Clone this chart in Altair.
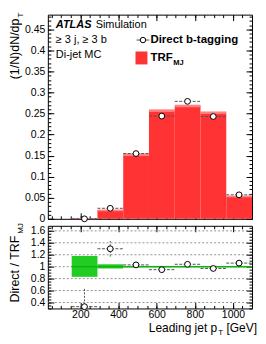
import altair as alt
import pandas as pd

# ---------------- data ----------------
bin_lo = [155, 290, 425, 560, 695, 830, 965]
bin_hi = [290, 425, 560, 695, 830, 965, 1100]
bin_mid = [222, 357, 492, 627, 762, 897, 1032]

trf = [0.001, 0.020, 0.152, 0.257, 0.268, 0.252, 0.053]
trf_err = [0.001, 0.002, 0.003, 0.003, 0.003, 0.003, 0.002]

direct = [0.0, 0.025, 0.155, 0.244, 0.279, 0.243, 0.057]
direct_err = [0.001, 0.003, 0.003, 0.006, 0.006, 0.006, 0.003]

ratio = [0.33, 1.30, 1.03, 0.95, 1.04, 0.97, 1.06]
ratio_err = [0.32, 0.13, 0.02, 0.02, 0.02, 0.02, 0.03]

band_lo = [0.83, 0.97, 0.99, 0.99, 0.99, 0.99, 0.99]
band_hi = [1.18, 1.04, 1.01, 1.01, 1.01, 1.01, 1.01]

x_major = [200, 400, 600, 800, 1000]
x_minor = [50 * i for i in range(1, 22)]
y_top_major = [0, 0.05, 0.1, 0.15, 0.2, 0.25, 0.3, 0.35, 0.4, 0.45]
y_top_minor = [i / 100 for i in range(0, 49)]
y_bot_major = [0.4, 0.6, 0.8, 1, 1.2, 1.4, 1.6]
y_bot_minor = [0.3 + 0.05 * i for i in range(0, 28)]

# ---------------- styling ----------------
FONT = "Liberation Sans"
W, HT, HB = 205, 205, 83
RED = "#ff3333"
LRED = "#ff8080"
GREEN = "#22cc22"
DGREEN = "#12b012"
ERR = "#555555"

df = pd.DataFrame(dict(lo=bin_lo, hi=bin_hi, mid=bin_mid, trf=trf, trf_err=trf_err,
                       direct=direct, direct_err=direct_err, ratio=ratio,
                       ratio_err=ratio_err, blo=band_lo, bhi=band_hi))
df["zero"] = 0.0
df["one"] = 1.0
df["trf_lo"] = df.trf - df.trf_err
df["trf_hi"] = df.trf + df.trf_err
df["d_lo"] = df.direct - df.direct_err
df["d_hi"] = df.direct + df.direct_err
df["r_lo"] = df.ratio - df.ratio_err
df["r_hi"] = df.ratio + df.ratio_err


def ax(orient, values, size, labels=False, pad=3):
    kw = dict(orient=orient, values=values, tickSize=size, offset=-size, domain=False,
              grid=False, ticks=True, tickColor="black", tickWidth=1, labels=labels,
              title=None)
    if labels:
        kw.update(labelFont=FONT, labelFontSize=10.5, labelColor="black", labelPadding=pad,
                  labelOverlap=False, labelFlush=False,
                  labelExpr="format(datum.value, '~g')")
    return alt.Axis(**kw)


def txt(s, x, y, size=11, weight="normal", style="normal", align="left", angle=0,
        baseline="middle"):
    return alt.Chart(alt.Data(values=[{}])).mark_text(
        text=s, font=FONT, fontSize=size, fontWeight=weight, fontStyle=style,
        align=align, baseline=baseline, angle=angle, color="black"
    ).encode(x=alt.value(x), y=alt.value(y))


one = alt.Data(values=[{}])

# ---------------- top panel ----------------
xs_t = alt.Scale(domain=[30, 1100], nice=False, zero=False)
ys_t = alt.Scale(domain=[0, 0.485], nice=False, zero=False)
bt = alt.Chart(df)

bars = bt.mark_rect(color=RED).encode(
    x=alt.X("lo:Q", scale=xs_t, axis=ax("bottom", x_major, 6)), x2="hi",
    y=alt.Y("trf:Q", scale=ys_t, axis=ax("left", y_top_major, 6, labels=True)), y2="zero")
bars_err = bt.mark_rect(color=LRED).encode(
    x=alt.X("lo:Q", scale=xs_t, axis=ax("bottom", x_minor, 3)), x2="hi",
    y=alt.Y("trf_lo:Q", scale=ys_t, axis=ax("left", y_top_minor, 3)), y2="trf_hi")
d_h = bt.mark_rule(color=ERR, strokeDash=[3, 1.5], strokeWidth=1).encode(
    x=alt.X("lo:Q", scale=xs_t, axis=ax("top", x_major, 6)), x2="hi",
    y=alt.Y("direct:Q", scale=ys_t, axis=ax("right", y_top_major, 6)))
d_v = bt.mark_rule(color=ERR, strokeWidth=1).encode(
    x=alt.X("mid:Q", scale=xs_t, axis=ax("top", x_minor, 3)),
    y=alt.Y("d_lo:Q", scale=ys_t, axis=ax("right", y_top_minor, 3)), y2="d_hi")
d_pt = bt.mark_point(shape="circle", filled=True, fill="white", stroke="black",
                     strokeWidth=1, size=34, opacity=1).encode(
    x=alt.X("mid:Q", scale=xs_t, axis=None),
    y=alt.Y("direct:Q", scale=ys_t, axis=None))

leg_line = alt.Chart(one).mark_rule(color=ERR, strokeWidth=1).encode(
    x=alt.value(89), x2=alt.value(102), y=alt.value(25.5))
leg_pt = alt.Chart(one).mark_point(shape="circle", filled=True, fill="white",
                                   stroke="black", strokeWidth=1, size=30, opacity=1).encode(
    x=alt.value(95.5), y=alt.value(25.5))
leg_box = alt.Chart(one).mark_rect(color=RED).encode(
    x=alt.value(88), x2=alt.value(100), y=alt.value(37), y2=alt.value(50))

top = alt.layer(
    bars, bars_err, d_h, d_v, d_pt,
    leg_line, leg_pt, leg_box,
    txt("ATLAS", 8, 10, size=11, weight="bold", style="italic"),
    txt("Simulation", 48, 10, size=11),
    txt("\u2265 3 j, \u2265 3 b", 8, 25.5, size=11),
    txt("Di-jet MC", 8, 40.5, size=11),
    txt("Direct b-tagging", 103, 25.5, size=11.5, weight="bold"),
    txt("TRF", 103, 44, size=11.5, weight="bold"),
    txt("MJ", 126, 48.5, size=7.5, weight="bold"),
    txt("(1/N)dN/dp", -33, 65, size=12.5, angle=270, align="left"),
    txt("T", -27, 3, size=8, angle=270, align="left"),
).resolve_axis(x="independent", y="independent").properties(width=W, height=HT)

# ---------------- bottom panel ----------------
xs_b = alt.Scale(domain=[30, 1100], nice=False, zero=False)
ys_b = alt.Scale(domain=[0.3, 1.685], nice=False, zero=False)
bb = alt.Chart(df)

grid = alt.Chart(pd.DataFrame({"g": y_bot_major})).mark_rule(
    color="#777777", strokeDash=[2, 2], strokeWidth=0.8).encode(
    y=alt.Y("g:Q", scale=ys_b, axis=ax("left", y_bot_major, 6, labels=True)))
band = bb.mark_rect(color=GREEN).encode(
    x=alt.X("lo:Q", scale=xs_b, axis=ax("bottom", x_major, 6, labels=True, pad=1)), x2="hi",
    y=alt.Y("blo:Q", scale=ys_b, axis=ax("left", y_bot_minor, 3)), y2="bhi")
cline = bb.mark_rule(color=DGREEN, strokeWidth=1.5).encode(
    x=alt.X("lo:Q", scale=xs_b, axis=ax("bottom", x_minor, 3)), x2="hi",
    y=alt.Y("one:Q", scale=ys_b, axis=ax("right", y_bot_major, 6)))
r_h = bb.mark_rule(color=ERR, strokeDash=[3, 1.5], strokeWidth=1).encode(
    x=alt.X("lo:Q", scale=xs_b, axis=ax("top", x_major, 6)), x2="hi",
    y=alt.Y("ratio:Q", scale=ys_b, axis=ax("right", y_bot_minor, 3)))
r_v = bb.mark_rule(color=ERR, strokeDash=[2, 1.5], strokeWidth=1, clip=True).encode(
    x=alt.X("mid:Q", scale=xs_b, axis=ax("top", x_minor, 3)),
    y=alt.Y("r_lo:Q", scale=ys_b, axis=None), y2="r_hi")
r_pt = bb.mark_point(shape="circle", filled=True, fill="white", stroke="black",
                     strokeWidth=1, size=34, opacity=1).encode(
    x=alt.X("mid:Q", scale=xs_b, axis=None),
    y=alt.Y("ratio:Q", scale=ys_b, axis=None))

bottom = alt.layer(
    grid, band, cline, r_h, r_v, r_pt,
    txt("Direct / TRF", -33, 77, size=12.5, angle=270, align="left"),
    txt("MJ", -27, 8, size=8, angle=270, align="left"),
    txt("Leading jet p", 170, 106.5, size=12, align="right", baseline="alphabetic"),
    txt("T", 171, 109.5, size=8, align="left", baseline="alphabetic"),
    txt("[GeV]", 210, 106.5, size=12, align="right", baseline="alphabetic"),
).resolve_axis(x="independent", y="independent").properties(width=W, height=HB)

chart = alt.vconcat(top, bottom, spacing=7, bounds="flush").configure_view(
    stroke="black", strokeWidth=1
).properties(
    padding={"left": 0, "top": 3, "right": 0, "bottom": 0},
    background="white",
)

chart.save("out.html", embed_options={"renderer": "svg", "actions": False})
